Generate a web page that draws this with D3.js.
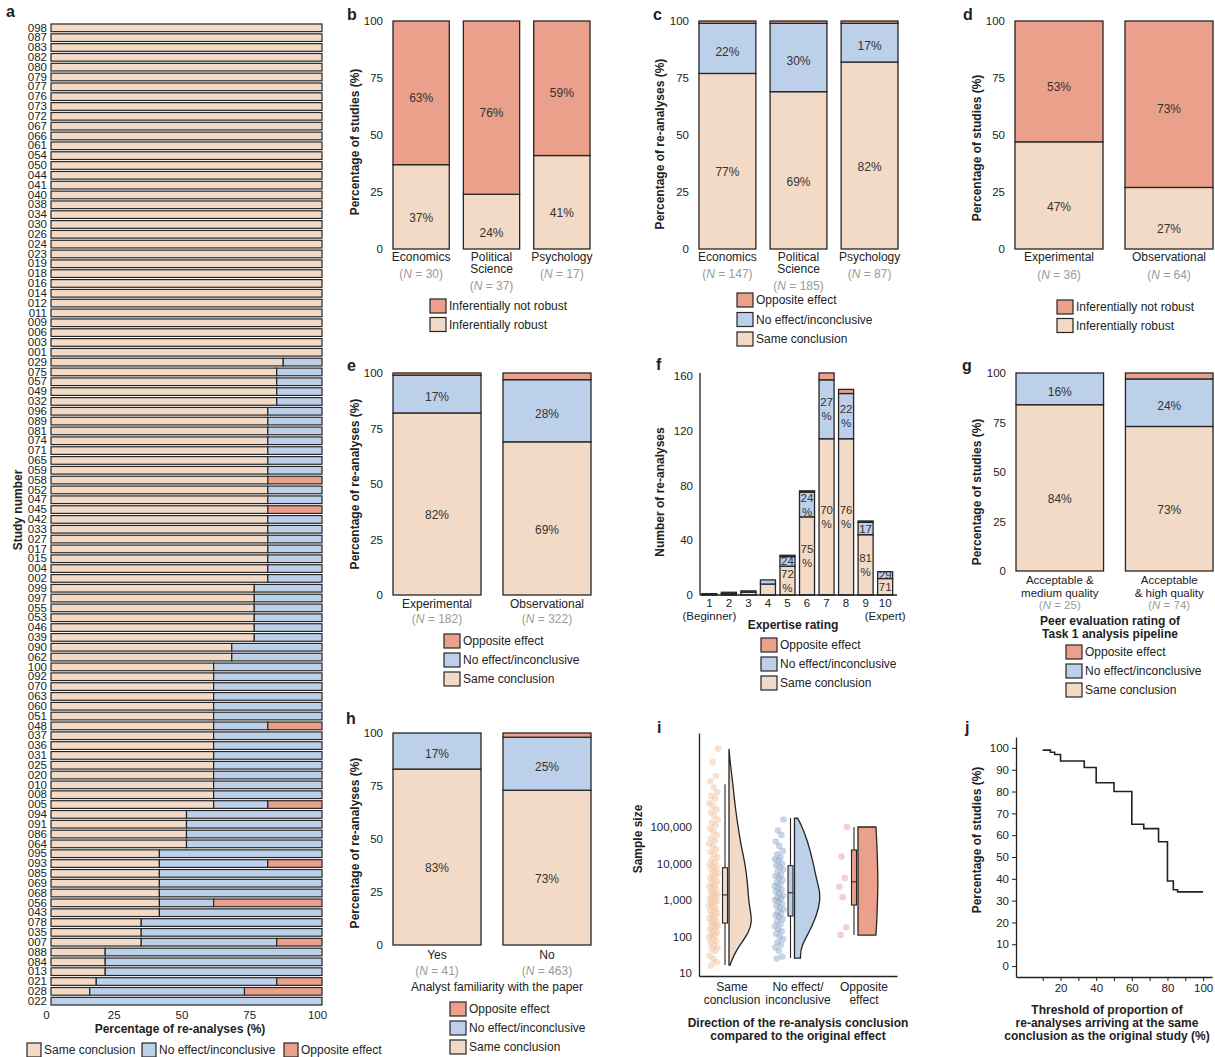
<!DOCTYPE html>
<html>
<head>
<meta charset="utf-8">
<script src="https://cdn.jsdelivr.net/npm/d3@7"></script>
<style>
  body { margin: 0; background: #fff; }
</style>
</head>
<body>
<script>
// ---------------- data ----------------
// a: per-study share of re-analyses (%) by conclusion
const studyIds = [
  "098","087","083","082","080","079","077","076","073","072","067","066","061","054","050","044","041",
  "040","038","034","030","026","024","023","019","018","016","014","012","011","009","006","003","001",
  "029","075","057","049","032",
  "096","089","081","074","071","065","059","058","052","047","045","042","033","027","017","015","004","002",
  "099","097","055","053","046","039",
  "090","062",
  "100","092","070","063","060","051","048","037","036","031","025","020","010","008","005",
  "094","091","086","064",
  "095","093","085","069","068","056","043",
  "078","035","007",
  "088","084","013",
  "021","028","022"
];
const studySame = [
  100,100,100,100,100,100,100,100,100,100,100,100,100,100,100,100,100,
  100,100,100,100,100,100,100,100,100,100,100,100,100,100,100,100,100,
  85.7,83.3,83.3,83.3,83.3,
  80,80,80,80,80,80,80,80,80,80,80,80,80,80,80,80,80,80,
  75,75,75,75,75,75,
  66.7,66.7,
  60,60,60,60,60,60,60,60,60,60,60,60,60,60,60,
  50,50,50,50,
  40,40,40,40,40,40,40,
  33.3,33.3,33.3,
  20,20,20,
  16.7,14.3,0
];
const studyNoEffect = [
  0,0,0,0,0,0,0,0,0,0,0,0,0,0,0,0,0,
  0,0,0,0,0,0,0,0,0,0,0,0,0,0,0,0,0,
  14.3,16.7,16.7,16.7,16.7,
  20,20,20,20,20,20,20,0,20,20,0,20,20,20,20,20,20,20,
  25,25,25,25,25,25,
  33.3,33.3,
  40,40,40,40,40,40,20,40,40,40,40,40,40,40,20,
  50,50,50,50,
  60,40,60,60,60,20,60,
  66.7,66.7,50,
  80,80,80,
  66.6,57.1,100
];
const studyOpposite = [
  0,0,0,0,0,0,0,0,0,0,0,0,0,0,0,0,0,
  0,0,0,0,0,0,0,0,0,0,0,0,0,0,0,0,0,
  0,0,0,0,0,
  0,0,0,0,0,0,0,20,0,0,20,0,0,0,0,0,0,0,
  0,0,0,0,0,0,
  0,0,
  0,0,0,0,0,0,20,0,0,0,0,0,0,0,20,
  0,0,0,0,
  0,20,0,0,0,40,0,
  0,0,16.7,
  0,0,0,
  16.7,28.6,0
];

// b: robustness by discipline (% of studies)
const disciplines = ["Economics", "Political\nScience", "Psychology"];
const disciplineStudiesN = [30, 37, 17];
const disciplineRobust = [37, 24, 41];
const disciplineNotRobust = [63, 76, 59];

// c: re-analysis conclusions by discipline (%)
const disciplineReanalysesN = [147, 185, 87];
const disciplineSame = [77, 69, 82];
const disciplineNoEffect = [22, 30, 17];
const disciplineOpposite = [1, 1, 1];

// d: robustness by data type (% of studies)
const dataTypes = ["Experimental", "Observational"];
const dataTypeStudiesN = [36, 64];
const dataTypeRobust = [47, 27];
const dataTypeNotRobust = [53, 73];

// e: re-analysis conclusions by data type (%)
const dataTypeReanalysesN = [182, 322];
const dataTypeSame = [82, 69];
const dataTypeNoEffect = [17, 28];
const dataTypeOpposite = [1, 3];

// f: counts of re-analyses by self-rated expertise
const expertise = ["1","2","3","4","5","6","7","8","9","10"];
const expertiseSub = ["(Beginner)","","","","","","","","","(Expert)"];
const expertiseSame = [1, 1, 2, 8, 21, 57, 114, 114, 44, 12];
const expertiseNoEffect = [0, 1, 1, 3, 7, 18, 43, 33, 9, 5];
const expertiseOpposite = [0, 0, 0, 0, 1, 1, 5, 3, 1, 0];
const expertiseSameText = ["","","","","72\n%","75\n%","70\n%","76\n%","81\n%","71"];
const expertiseNoEffectText = ["","","","","24","24\n%","27\n%","22\n%","17","29"];

// g: conclusions by peer rating of the Task 1 pipeline (%)
const peerRatings = ["Acceptable &\nmedium quality", "Acceptable\n& high quality"];
const peerN = [25, 74];
const peerSame = [84, 73];
const peerNoEffect = [16, 24];
const peerOpposite = [0, 3];

// h: conclusions by analyst familiarity with the paper (%)
const familiarity = ["Yes", "No"];
const familiarityN = [41, 463];
const familiaritySame = [83, 73];
const familiarityNoEffect = [17, 25];
const familiarityOpposite = [0, 2];

// i: sample sizes by re-analysis conclusion
const directions = ["Same\nconclusion", "No effect/\ninconclusive", "Opposite\neffect"];
const sameSizes = [14000000, 6000000, 2500000, 1800000, 1200000, 900000, 700000, 600000, 450000, 380000,
  300000, 250000, 200000, 160000, 130000, 110000, 90000, 75000, 60000, 50000, 42000, 35000, 30000,
  25000, 21000, 18000, 15000, 13000, 11000, 9500, 8500, 7800, 7000, 6200, 5500, 5000, 4500, 4000,
  3600, 3200, 2900, 2600, 2300, 2100, 1900, 1700, 1550, 1400, 1300, 1200, 1100, 1000, 920, 850,
  780, 700, 640, 580, 520, 470, 430, 390, 350, 320, 290, 260, 240, 220, 200, 185, 170, 155, 140,
  128, 115, 105, 95, 85, 75, 66, 58, 50, 45, 40, 30, 24, 20, 16];
const noEffectSizes = [160000, 80000, 60000, 40000, 30000, 22000, 18000, 15000, 13000, 12000, 10000,
  9000, 8000, 7000, 6000, 5000, 4500, 4000, 3500, 3000, 2700, 2400, 2100, 1900, 1700, 1500, 1300,
  1200, 1100, 1000, 900, 800, 700, 620, 550, 480, 420, 380, 340, 300, 260, 220, 190, 160, 140, 120,
  100, 85, 70, 60, 50, 40, 28, 25];
const oppositeSizes = [100000, 15500, 4000, 2300, 1200, 180, 110];
// box summaries: [min, q1, median, q3, max]
const sameBox = [16.6, 234, 1380, 7670, 1480000];
const noEffectBox = [26, 365, 1580, 8700, 177000];
const oppositeBox = [110, 730, 3160, 23500, 100000];
// density profiles: log10(sample size) and relative density
const sameDensityLog = [7.14, 6.8, 6.17, 5.6, 5.0, 4.5, 4.0, 3.5, 3.0, 2.67, 2.4, 2.12, 1.77, 1.5, 1.22];
const sameDensity = [0, 0.04, 0.15, 0.23, 0.35, 0.46, 0.62, 0.71, 0.75, 0.83, 0.88, 0.77, 0.42, 0.19, 0.04];
const noEffectDensityLog = [5.24, 5.1, 4.64, 4.0, 3.55, 3.18, 2.82, 2.27, 1.72, 1.41];
const noEffectDensity = [0.12, 0.23, 0.5, 0.73, 0.85, 1.0, 0.96, 0.69, 0.23, 0.23];
const oppositeDensityLog = [5.0, 4.5, 4.0, 3.5, 3.0, 2.5, 2.04];
const oppositeDensity = [0.69, 0.73, 0.75, 0.77, 0.75, 0.73, 0.69];

// j: share of studies reaching each threshold of same-conclusion re-analyses
const thresholds = [10, 14.3, 16.7, 20, 33.3, 40, 50, 60, 66.7, 75, 80, 83.3, 85.7, 100];
const studiesAtThreshold = [99, 98, 97, 94, 91, 84, 80, 65, 63, 57, 39, 35, 34, 34];

// ---------------- style ----------------
const FONT = '"Liberation Sans", Arial, Helvetica, sans-serif';
const INK = "#222";
const STROKE = "#262626";
const GREY = "#9a9a9a";
const C_SAME = "#f2dac6";
const C_NO = "#bdd0ea";
const C_OPP = "#eba08c";

const svg = d3.select("body").append("svg")
  .attr("width", 1215).attr("height", 1057)
  .style("font-family", FONT);

function letter(t, x, y) {
  svg.append("text").attr("x", x).attr("y", y)
    .attr("font-size", 16).attr("font-weight", "bold").attr("fill", INK).text(t);
}
function yTitle(t, x, cy) {
  svg.append("text").attr("transform", `translate(${x},${cy}) rotate(-90)`)
    .attr("text-anchor", "middle").attr("dy", "0.35em")
    .attr("font-size", 12).attr("font-weight", "bold").attr("fill", INK).text(t);
}
function lines(t, x, y0, lh, opts = {}) {
  const el = svg.append("text").attr("text-anchor", opts.anchor || "middle")
    .attr("font-size", opts.size || 12).attr("fill", opts.fill || INK)
    .attr("font-weight", opts.bold ? "bold" : null);
  t.split("\n").forEach((s, j) => el.append("tspan").attr("x", x).attr("y", y0 + j * lh).text(s));
  return el;
}
function legend(x, yTop, step, items, w = 16, h = 14) {
  items.forEach((it, i) => {
    svg.append("rect").attr("x", x).attr("y", yTop + i * step).attr("width", w).attr("height", h)
      .attr("fill", it.color).attr("stroke", STROKE).attr("stroke-width", 1.2);
    svg.append("text").attr("x", x + w + 3).attr("y", yTop + i * step + h / 2).attr("dy", "0.35em")
      .attr("font-size", 12).attr("fill", INK).text(it.label);
  });
}
function styleAxis(a, size) {
  a.selectAll("text").attr("font-size", size || 11.5).attr("fill", INK).attr("font-family", FONT);
  a.selectAll("line").attr("stroke", INK);
  a.select(".domain").attr("stroke", INK);
}
function nLabel(x, y, n, size) {
  const t = svg.append("text").attr("x", x).attr("y", y).attr("text-anchor", "middle")
    .attr("font-size", size || 12).attr("fill", GREY);
  t.append("tspan").text("(");
  t.append("tspan").attr("font-style", "italic").text("N");
  t.append("tspan").text(" = " + n + ")");
}

// vertical 100% stacked bars with category and N labels
function stackPanel(o) {
  const g = svg.append("g");
  const x = d3.scaleBand().domain(o.cats).range(o.xr).paddingInner(0.2).paddingOuter(0);
  const y = d3.scaleLinear().domain([0, 100]).range(o.yr);
  const rows = o.cats.map((c, i) => {
    const r = { cat: c };
    o.series.forEach(s => r[s.key] = s.values[i]);
    return r;
  });
  const layers = d3.stack().keys(o.series.map(s => s.key))(rows);
  layers.forEach((layer, li) => {
    const s = o.series[li];
    g.selectAll(null).data(layer.filter(d => d[1] - d[0] > 0)).join("rect")
      .attr("x", d => x(d.data.cat)).attr("width", x.bandwidth())
      .attr("y", d => y(d[1])).attr("height", d => y(d[0]) - y(d[1]))
      .attr("fill", s.color).attr("stroke", STROKE).attr("stroke-width", 1.3);
  });
  layers.forEach((layer, li) => {
    const s = o.series[li];
    if (!s.label) return;
    g.selectAll(null).data(layer).join("text")
      .attr("x", d => x(d.data.cat) + x.bandwidth() / 2)
      .attr("y", d => (y(d[0]) + y(d[1])) / 2 + s.off).attr("dy", "0.35em")
      .attr("text-anchor", "middle").attr("font-size", 12).attr("fill", "#333")
      .text(d => (d[1] - d[0]) + "%");
  });
  g.append("g").attr("transform", `translate(${o.xr[0]},0)`)
    .call(d3.axisLeft(y).tickValues([0, 25, 50, 75, 100]).tickSize(0).tickPadding(10))
    .call(a => { a.select(".domain").remove(); styleAxis(a); });
  const lh = o.lh || 12;
  o.cats.forEach((c, i) => {
    const cx = x(c) + x.bandwidth() / 2;
    lines(c, cx, o.labelY, lh, { size: o.labelSize || 12 });
    const nl = c.split("\n").length;
    nLabel(cx, o.labelY + (nl - 1) * lh + o.nGap, o.n[i], o.labelSize || 12);
  });
  return { x, y };
}

const robustSeries = (rob, not) => [
  { key: "robust", values: rob, color: C_SAME, label: true, off: 11 },
  { key: "notRobust", values: not, color: C_OPP, label: true, off: 5 }
];
const conclusionSeries = (same, no, opp) => [
  { key: "same", values: same, color: C_SAME, label: true, off: 11 },
  { key: "noEffect", values: no, color: C_NO, label: true, off: 3 },
  { key: "opposite", values: opp, color: C_OPP, label: false, off: 0 }
];
const robustLegend = [
  { color: C_OPP, label: "Inferentially not robust" },
  { color: C_SAME, label: "Inferentially robust" }
];
const conclusionLegend = [
  { color: C_OPP, label: "Opposite effect" },
  { color: C_NO, label: "No effect/inconclusive" },
  { color: C_SAME, label: "Same conclusion" }
];

// ---------------- a ----------------
{
  const g = svg.append("g");
  const x = d3.scaleLinear().domain([0, 100]).range([51, 322]);
  const y = d3.scaleBand().domain(studyIds).range([23, 1006]).paddingInner(0.22).paddingOuter(0.1);
  const rows = studyIds.map((id, i) => ({ id, same: studySame[i], noEffect: studyNoEffect[i], opposite: studyOpposite[i] }));
  const keys = ["same", "noEffect", "opposite"];
  const cols = [C_SAME, C_NO, C_OPP];
  d3.stack().keys(keys)(rows).forEach((layer, li) => {
    g.selectAll(null).data(layer.filter(d => d[1] - d[0] > 0)).join("rect")
      .attr("y", d => y(d.data.id)).attr("height", y.bandwidth())
      .attr("x", d => x(d[0])).attr("width", d => x(d[1]) - x(d[0]))
      .attr("fill", cols[li]).attr("stroke", STROKE).attr("stroke-width", 1.2);
  });
  g.append("g").attr("transform", "translate(51,0)")
    .call(d3.axisLeft(y).tickSize(0).tickPadding(4))
    .call(a => { a.select(".domain").remove(); styleAxis(a, 11.5); });
  g.append("g").attr("transform", "translate(0,1006)")
    .call(d3.axisBottom(x).tickValues([0, 25, 50, 75, 100]).tickSize(0).tickPadding(5))
    .call(a => { a.select(".domain").remove(); styleAxis(a, 11.5); a.selectAll("text").attr("dx", -5); });
  letter("a", 6, 17);
  yTitle("Study number", 18, 510);
  svg.append("text").attr("x", 180).attr("y", 1033).attr("text-anchor", "middle")
    .attr("font-size", 12).attr("font-weight", "bold").attr("fill", INK).text("Percentage of re-analyses (%)");
  const aLegend = [
    { color: C_SAME, label: "Same conclusion", x: 27 },
    { color: C_NO, label: "No effect/inconclusive", x: 142 },
    { color: C_OPP, label: "Opposite effect", x: 284 }
  ];
  aLegend.forEach(it => {
    svg.append("rect").attr("x", it.x).attr("y", 1043).attr("width", 14).attr("height", 14)
      .attr("fill", it.color).attr("stroke", STROKE).attr("stroke-width", 1.2);
    svg.append("text").attr("x", it.x + 17).attr("y", 1050).attr("dy", "0.35em")
      .attr("font-size", 12).attr("fill", INK).text(it.label);
  });
}

// ---------------- b ----------------
stackPanel({ cats: disciplines, n: disciplineStudiesN, xr: [393, 590], yr: [249, 21],
  series: robustSeries(disciplineRobust, disciplineNotRobust), labelY: 261, nGap: 17 });
letter("b", 347, 20);
yTitle("Percentage of studies (%)", 355, 142);
legend(430, 299, 18.5, robustLegend);

// ---------------- c ----------------
stackPanel({ cats: disciplines, n: disciplineReanalysesN, xr: [699, 898], yr: [249, 21],
  series: conclusionSeries(disciplineSame, disciplineNoEffect, disciplineOpposite), labelY: 261, nGap: 17 });
letter("c", 653, 20);
yTitle("Percentage of re-analyses (%)", 660, 144);
legend(737, 293, 19.5, conclusionLegend);

// ---------------- d ----------------
stackPanel({ cats: dataTypes, n: dataTypeStudiesN, xr: [1015, 1213], yr: [249, 21],
  series: robustSeries(dataTypeRobust, dataTypeNotRobust), labelY: 261, nGap: 18 });
letter("d", 963, 20);
yTitle("Percentage of studies (%)", 977, 148);
legend(1057, 300, 18.5, robustLegend);

// ---------------- e ----------------
stackPanel({ cats: dataTypes, n: dataTypeReanalysesN, xr: [393, 591], yr: [595, 373],
  series: conclusionSeries(dataTypeSame, dataTypeNoEffect, dataTypeOpposite), labelY: 608, nGap: 15 });
letter("e", 347, 371);
yTitle("Percentage of re-analyses (%)", 355, 484);
legend(444, 634, 19, conclusionLegend);

// ---------------- f ----------------
{
  const g = svg.append("g");
  const x = d3.scaleBand().domain(expertise).range([699.5, 895]).paddingInner(0.23).paddingOuter(0.12);
  const y = d3.scaleLinear().domain([0, 160]).range([595, 375.7]);
  const rows = expertise.map((e, i) => ({ e, same: expertiseSame[i], noEffect: expertiseNoEffect[i], opposite: expertiseOpposite[i] }));
  const layers = d3.stack().keys(["same", "noEffect", "opposite"])(rows);
  const cols = [C_SAME, C_NO, C_OPP];
  layers.forEach((layer, li) => {
    g.selectAll(null).data(layer.filter(d => d[1] - d[0] > 0)).join("rect")
      .attr("x", d => x(d.data.e)).attr("width", x.bandwidth())
      .attr("y", d => y(d[1])).attr("height", d => y(d[0]) - y(d[1]))
      .attr("fill", cols[li]).attr("stroke", STROKE).attr("stroke-width", 1.3);
  });
  const texts = [expertiseSameText, expertiseNoEffectText];
  [0, 1].forEach(li => {
    layers[li].forEach((d, i) => {
      const t = texts[li][i];
      if (!t) return;
      const parts = t.split("\n");
      const cy = (y(d[0]) + y(d[1])) / 2;
      const el = g.append("text").attr("text-anchor", "middle").attr("font-size", 11.5).attr("fill", "#333");
      parts.forEach((p, j) => el.append("tspan")
        .attr("x", x(d.data.e) + x.bandwidth() / 2)
        .attr("y", cy + 4 - (parts.length - 1) * 7 + j * 14).text(p));
    });
  });
  g.append("g").attr("transform", "translate(700,0)")
    .call(d3.axisLeft(y).tickValues([0, 40, 80, 120, 160]).tickSize(0).tickPadding(7))
    .call(a => { styleAxis(a); a.select(".domain").attr("d", "M0,595V373").attr("stroke-width", 1.3); });
  g.append("g").attr("transform", "translate(0,595)")
    .call(d3.axisBottom(x).tickSize(0).tickPadding(4))
    .call(a => {
      styleAxis(a);
      a.select(".domain").attr("d", "M700,0H897").attr("stroke-width", 1.3);
      a.selectAll(".tick text").each(function (d, i) {
        if (expertiseSub[i]) d3.select(this).append("tspan").attr("x", 0).attr("dy", "1.15em").text(expertiseSub[i]);
      });
    });
  letter("f", 656, 370);
  yTitle("Number of re-analyses", 660, 492);
  svg.append("text").attr("x", 793).attr("y", 629).attr("text-anchor", "middle")
    .attr("font-size", 12).attr("font-weight", "bold").attr("fill", INK).text("Expertise rating");
  legend(761, 638, 19, conclusionLegend);
}

// ---------------- g ----------------
stackPanel({ cats: peerRatings, n: peerN, xr: [1016, 1213], yr: [571, 373], lh: 12.5, labelSize: 11.5,
  series: conclusionSeries(peerSame, peerNoEffect, peerOpposite), labelY: 584, nGap: 12.5 });
letter("g", 962, 371);
yTitle("Percentage of studies (%)", 977, 492);
lines("Peer evaluation rating of\nTask 1 analysis pipeline", 1110, 625, 12.5, { bold: true });
legend(1066, 645, 19, conclusionLegend);

// ---------------- h ----------------
stackPanel({ cats: familiarity, n: familiarityN, xr: [393, 591], yr: [945, 733],
  series: conclusionSeries(familiaritySame, familiarityNoEffect, familiarityOpposite), labelY: 959, nGap: 16 });
letter("h", 346, 724);
yTitle("Percentage of re-analyses (%)", 355, 843);
svg.append("text").attr("x", 497).attr("y", 991).attr("text-anchor", "middle")
  .attr("font-size", 12).attr("fill", INK).text("Analyst familiarity with the paper");
legend(450, 1002, 19, conclusionLegend);

// ---------------- i ----------------
{
  const g = svg.append("g");
  const x = d3.scaleBand().domain(directions).range([699, 897]);
  const y = d3.scaleLog().domain([8.3, 3.76e7]).range([976, 733]);
  const w = d3.scaleLinear().domain([0, 1]).range([0, 26]);
  const groups = [
    { sizes: sameSizes, box: sameBox, dl: sameDensityLog, dv: sameDensity, fill: C_SAME, pt: "rgba(241,196,160,0.5)", boxOff: 7 },
    { sizes: noEffectSizes, box: noEffectBox, dl: noEffectDensityLog, dv: noEffectDensity, fill: C_NO, pt: "rgba(135,162,198,0.45)", boxOff: 7.5 },
    { sizes: oppositeSizes, box: oppositeBox, dl: oppositeDensityLog, dv: oppositeDensity, fill: C_OPP, pt: "rgba(234,160,160,0.5)", boxOff: 10 }
  ];
  groups.forEach((gr, k) => {
    const c = x(directions[k]) + x.bandwidth() / 2;
    const bc = c - gr.boxOff;
    // jittered raw points left of the box
    g.selectAll(null).data(gr.sizes).join("circle")
      .attr("cx", (d, i) => bc - 7 - ((i * 0.6180339) % 1) * 9)
      .attr("cy", d => y(d)).attr("r", 3.3).attr("fill", gr.pt);
    // half violin to the right
    const prof = gr.dl.map((l, i) => ({ v: Math.pow(10, l), d: gr.dv[i] }));
    const x0 = bc + 4;
    g.append("path").datum(prof)
      .attr("d", d3.area().y(d => y(d.v)).x0(x0).x1(d => x0 + w(d.d)).curve(d3.curveBasis))
      .attr("fill", gr.fill).attr("stroke", STROKE).attr("stroke-width", 1.3);
    // box and whiskers
    const [mn, q1, md, q3, mx] = gr.box;
    g.append("line").attr("x1", bc).attr("x2", bc).attr("y1", y(mn)).attr("y2", y(mx))
      .attr("stroke", STROKE).attr("stroke-width", 1.1);
    g.append("rect").attr("x", bc - 2.5).attr("width", 5).attr("y", y(q3)).attr("height", y(q1) - y(q3))
      .attr("fill", gr.fill).attr("stroke", STROKE).attr("stroke-width", 1.1);
    g.append("line").attr("x1", bc - 2.5).attr("x2", bc + 2.5).attr("y1", y(md)).attr("y2", y(md))
      .attr("stroke", STROKE).attr("stroke-width", 1.1);
    lines(directions[k], c, 991, 13);
  });
  g.append("g").attr("transform", "translate(699,0)")
    .call(d3.axisLeft(y).tickValues([10, 100, 1000, 10000, 100000]).tickFormat(d3.format(",")).tickSize(0).tickPadding(7))
    .call(a => { styleAxis(a); a.select(".domain").attr("stroke-width", 1.3); });
  g.append("g").attr("transform", "translate(0,976)")
    .call(d3.axisBottom(x).tickSize(0).tickSizeOuter(0).tickFormat(""))
    .call(a => { styleAxis(a); a.select(".domain").attr("stroke-width", 1.3); });
  letter("i", 657, 733);
  yTitle("Sample size", 638, 839);
  lines("Direction of the re-analysis conclusion\ncompared to the original effect", 798, 1027, 13, { bold: true });
}

// ---------------- j ----------------
{
  const g = svg.append("g");
  const x = d3.scaleLinear().domain([-5, 105]).range([1016, 1212]);
  const y = d3.scaleLinear().domain([-5, 105]).range([977, 737]);
  g.append("g").attr("transform", "translate(1016,0)")
    .call(d3.axisLeft(y).tickValues(d3.range(0, 101, 10)).tickSize(4).tickSizeOuter(0).tickPadding(3))
    .call(a => { styleAxis(a); a.select(".domain").attr("stroke-width", 1.3); });
  g.append("g").attr("transform", "translate(0,977)")
    .call(d3.axisBottom(x).tickValues(d3.range(10, 101, 10)).tickFormat(d => d % 20 === 0 ? d : "")
      .tickSize(4).tickSizeOuter(0).tickPadding(3))
    .call(a => { styleAxis(a); a.select(".domain").attr("stroke-width", 1.3); });
  const pts = thresholds.map((t, i) => ({ t, p: studiesAtThreshold[i] }));
  g.append("path").datum(pts)
    .attr("d", d3.line().x(d => x(d.t)).y(d => y(d.p)).curve(d3.curveStepAfter))
    .attr("fill", "none").attr("stroke", INK).attr("stroke-width", 1.6);
  letter("j", 965, 733);
  yTitle("Percentage of studies (%)", 977, 840);
  lines("Threshold of proportion of\nre-analyses arriving at the same\nconclusion as the original study (%)", 1107, 1014, 13, { bold: true });
}
</script>
</body>
</html>
